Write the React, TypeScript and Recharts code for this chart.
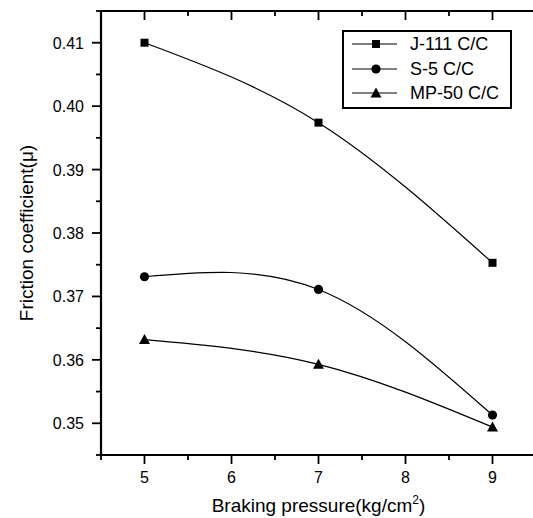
import { LineChart, Line, XAxis, YAxis, Legend, ReferenceArea } from 'recharts'

const pressures = [5, 7, 9]
const j111 = [0.41, 0.3974, 0.3753]
const s5 = [0.3731, 0.3711, 0.3513]
const mp50 = [0.3632, 0.3593, 0.3494]

const xMajor = [5, 6, 7, 8, 9]
const xMinor = [4.5, 5.5, 6.5, 7.5, 8.5, 9.5]
const yMajor = [0.35, 0.36, 0.37, 0.38, 0.39, 0.4, 0.41]
const yMinor = [0.345, 0.355, 0.365, 0.375, 0.385, 0.395, 0.405, 0.415]

const seriesNames = ['J-111 C/C', 'S-5 C/C', 'MP-50 C/C']
const seriesKeys = ['j111', 's5', 'mp50']
const seriesShapes = ['square', 'circle', 'triangle']

const data = pressures.map((p, i) => ({
  p,
  j111: j111[i],
  s5: s5[i],
  mp50: mp50[i],
}))

const X_DOMAIN: [number, number] = [4.5, 9.5]
const Y_DOMAIN: [number, number] = [0.345, 0.415]

const FONT = 'Arial, "Liberation Sans", sans-serif'
const INK = '#000'

const xTicks = [...xMajor, ...xMinor].sort((a, b) => a - b)
const yTicks = [...yMajor, ...yMinor].sort((a, b) => a - b)

const isMajor = (v: number, list: number[]) => list.some(m => Math.abs(m - v) < 1e-6)

function Marker({ shape, cx, cy }: { shape: string; cx: number; cy: number }) {
  if (shape === 'square') return <rect x={cx - 4} y={cy - 4} width={8} height={8} fill={INK} />
  if (shape === 'circle') return <circle cx={cx} cy={cy} r={4.6} fill={INK} />
  return <polygon points={`${cx},${cy - 5.5} ${cx - 5.5},${cy + 4.5} ${cx + 5.5},${cy + 4.5}`} fill={INK} />
}

// draws its own tick mark (long for majors, short for minors) plus the label
function makeTick(side: 'left' | 'bottom' | 'top' | 'right', major: number[], labelled: boolean) {
  return (props: any) => {
    const x = Number(props.x)
    const y = Number(props.y)
    const v = props.payload.value as number
    const big = isMajor(v, major)
    const len = big ? 9 : 5
    let d = ''
    if (side === 'left') d = `M${x - len},${y}H${x}`
    else if (side === 'bottom') d = `M${x},${y}V${y + len}`
    else if (side === 'top') d = `M${x},${y}V${y + len}`
    else d = `M${x - len},${y}H${x}`
    return (
      <g>
        <path d={d} stroke={INK} strokeWidth={1.8} fill="none" />
        {labelled && big && side === 'left' && (
          <text x={x - 17} y={y + 6} textAnchor="end" fontSize={16} fontFamily={FONT} fill={INK}>
            {v.toFixed(2)}
          </text>
        )}
        {labelled && big && side === 'bottom' && (
          <text x={x} y={y + 28} textAnchor="middle" fontSize={16} fontFamily={FONT} fill={INK}>
            {v}
          </text>
        )}
      </g>
    )
  }
}

function XTitle(props: any) {
  const { viewBox } = props
  const cx = viewBox.x + viewBox.width / 2
  return (
    <text x={cx} y={viewBox.y + 57} textAnchor="middle" fontSize={19} fontFamily={FONT} fill={INK}>
      Braking pressure(kg/cm
      <tspan dy={-8} fontSize={12}>2</tspan>
      <tspan dy={8}>)</tspan>
    </text>
  )
}

function YTitle(props: any) {
  const { viewBox } = props
  const cy = viewBox.y + viewBox.height / 2
  const cx = 26
  return (
    <text
      x={cx}
      y={cy}
      transform={`rotate(-90 ${cx} ${cy})`}
      textAnchor="middle"
      dominantBaseline="central"
      fontSize={19}
      fontFamily={FONT}
      fill={INK}
    >
      Friction coefficient(μ)
    </text>
  )
}

function LegendBox() {
  const rows = [14, 39, 63]
  return (
    <svg width={170} height={79} style={{ display: 'block' }}>
      <rect x={1} y={1} width={168} height={77} fill="#fff" stroke={INK} strokeWidth={2} />
      {seriesNames.map((name, i) => (
        <g key={name}>
          <line x1={10} x2={55} y1={rows[i]} y2={rows[i]} stroke={INK} strokeWidth={1.2} />
          <Marker shape={seriesShapes[i]} cx={34} cy={rows[i]} />
          <text x={68} y={rows[i] + 6} fontSize={18} fontFamily={FONT} fill={INK}>
            {name}
          </text>
        </g>
      ))}
    </svg>
  )
}

export default function App() {
  return (
    <div
      style={{
        position: 'absolute',
        left: 0,
        top: 0,
        width: 533,
        height: 518,
        overflow: 'hidden',
        background: '#fff',
      }}
    >
      <LineChart width={545} height={518} data={data} margin={{ top: 10, right: 8, left: 0, bottom: 0 }}>
        <XAxis
          xAxisId="b"
          dataKey="p"
          type="number"
          domain={X_DOMAIN}
          ticks={xTicks}
          interval={0}
          height={63}
          tickSize={0}
          tickMargin={0}
          tickLine={false}
          tick={makeTick('bottom', xMajor, true)}
          axisLine={false}
          label={<XTitle />}
        />
        <XAxis
          xAxisId="t"
          orientation="top"
          dataKey="p"
          type="number"
          domain={X_DOMAIN}
          ticks={xTicks}
          interval={0}
          height={1}
          tickSize={0}
          tickMargin={0}
          tickLine={false}
          tick={makeTick('top', xMajor, false)}
          axisLine={false}
        />
        <YAxis
          yAxisId="l"
          type="number"
          domain={Y_DOMAIN}
          ticks={yTicks}
          interval={0}
          width={101}
          tickSize={0}
          tickMargin={0}
          tickLine={false}
          tick={makeTick('left', yMajor, true)}
          axisLine={false}
          label={<YTitle />}
        />
        <YAxis
          yAxisId="r"
          orientation="right"
          type="number"
          domain={Y_DOMAIN}
          ticks={yTicks}
          interval={0}
          width={1}
          tickSize={0}
          tickMargin={0}
          tickLine={false}
          tick={makeTick('right', yMajor, false)}
          axisLine={false}
        />
        <ReferenceArea
          xAxisId="b"
          yAxisId="l"
          x1={X_DOMAIN[0]}
          x2={X_DOMAIN[1]}
          y1={Y_DOMAIN[0]}
          y2={Y_DOMAIN[1]}
          fill="none"
          fillOpacity={0}
          stroke={INK}
          strokeWidth={2.2}
          strokeOpacity={1}
        />
        <Legend
          layout="horizontal"
          verticalAlign="middle"
          align="center"
          content={() => <LegendBox />}
          wrapperStyle={{ position: 'absolute', left: 342, top: 30, width: 170, height: 79 }}
        />
        {seriesKeys.map((key, i) => (
          <Line
            key={key}
            xAxisId="b"
            yAxisId="l"
            dataKey={key}
            name={seriesNames[i]}
            type="natural"
            stroke={INK}
            strokeWidth={1.2}
            isAnimationActive={false}
            dot={(p: any) => <Marker key={`${key}-${p.index}`} shape={seriesShapes[i]} cx={p.cx} cy={p.cy} />}
            activeDot={false}
          />
        ))}
      </LineChart>
    </div>
  )
}
